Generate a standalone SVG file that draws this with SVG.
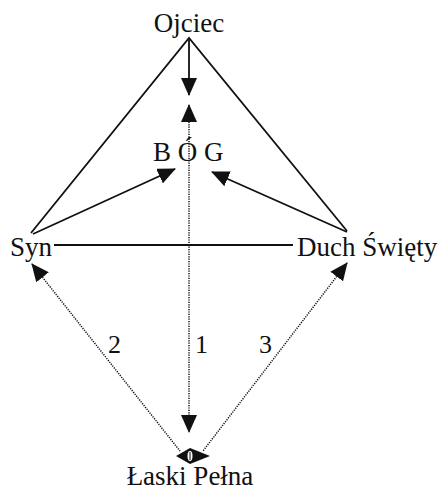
<svg xmlns="http://www.w3.org/2000/svg" width="445" height="490" viewBox="0 0 445 490">
  <style>
    text { font-family: "Liberation Serif", "Times New Roman", serif; font-size: 27px; fill: #111; }
    .solid { stroke: #111; stroke-width: 1.8; fill: none; }
    .dotted { stroke: #111; stroke-width: 1.5; stroke-dasharray: 1.2 1.2; fill: none; }
    .lbl { font-size: 26px; }
  </style>
  <defs>
    <marker id="ah" markerUnits="userSpaceOnUse" viewBox="0 0 18 16" refX="17" refY="8" markerWidth="18" markerHeight="16" orient="auto-start-reverse">
      <path d="M0,0 L18,8 L0,16 Z" fill="#111"/>
    </marker>
  </defs>
  <rect width="445" height="490" fill="#fff"/>

  <g id="connectors">
    <path class="solid" d="M31,233 L189,38 L347,231"/>
    <path class="solid" d="M54,245 L293,245"/>
    <path class="solid" d="M189,38 L189,95" marker-end="url(#ah)"/>
    <path class="solid" d="M33,234 L175,169" marker-end="url(#ah)"/>
    <path class="solid" d="M347,232 L212,172" marker-end="url(#ah)"/>
    <path class="dotted" d="M189,105 L189,432" marker-start="url(#ah)" marker-end="url(#ah)"/>
    <path class="dotted" d="M32,264 L180,451" marker-start="url(#ah)"/>
    <path class="dotted" d="M347,263 L203,451" marker-start="url(#ah)"/>
    <path d="M176,456 L190,448 L210,456 L190,464 Z" fill="#111"/>
    <ellipse cx="190" cy="456" rx="2.5" ry="5" fill="#fff"/>
    <path d="M190,452 L190,460" stroke="#111" stroke-width="1"/>
  </g>

  <g id="ojciec"><text x="189" y="32" text-anchor="middle">Ojciec</text></g>
  <g id="bog"><text x="153" y="161">B Ó G</text></g>
  <g id="syn"><text x="10" y="256">Syn</text></g>
  <g id="duch"><text x="297" y="256">Duch Święty</text></g>
  <g id="laski"><text x="190" y="485" text-anchor="middle">Łaski Pełna</text></g>
  <g id="labels">
    <text class="lbl" x="108" y="353">2</text>
    <text class="lbl" x="195" y="353">1</text>
    <text class="lbl" x="259" y="353">3</text>
  </g>
</svg>
